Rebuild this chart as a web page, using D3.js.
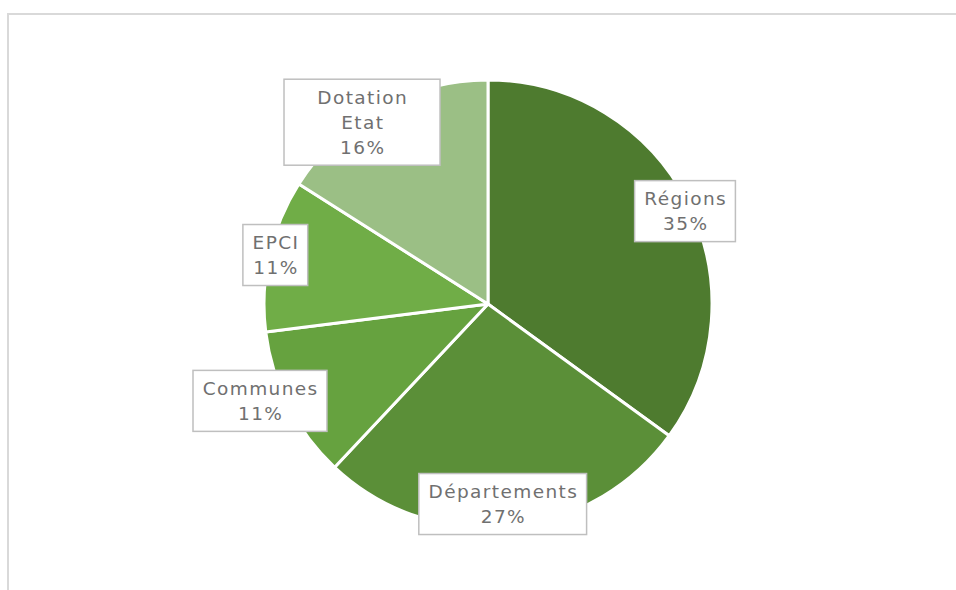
<!DOCTYPE html>
<html>
<head>
<meta charset="utf-8">
<script src="https://cdn.jsdelivr.net/npm/d3@7"></script>
<style>
  body { margin: 0; background: #fff; }
  svg { display: block; }
</style>
</head>
<body>
<div id="chart"></div>
<script>
// data
var categories = ['Régions', 'Départements', 'Communes', 'EPCI', 'Dotation Etat'];
var values = [35, 27, 11, 11, 16];
var labelLines = [['Régions'], ['Départements'], ['Communes'], ['EPCI'], ['Dotation', 'Etat']];
var colors = ['#4e7b2f', '#5b8f38', '#66a23f', '#70ad47', '#9bbf85'];

// label nudges from the centroid (excel's "best fit" placement)
var nudges = [[1, 7], [-6, -19], [-32, -3], [2, -1], [-20, 11]];

var w = 956, h = 590;
var cx = 488, cy = 304, r = 224;

var svg = d3.select('#chart').append('svg')
  .attr('width', w).attr('height', h);

// chart area frame
svg.append('rect')
  .attr('x', 8).attr('y', 14)
  .attr('width', w + 20).attr('height', h + 20)
  .attr('fill', 'none')
  .attr('stroke', '#d9d9d9')
  .attr('stroke-width', 2);

var pie = d3.pie().sort(null).value(d => d);
var arcs = pie(values);

var arc = d3.arc().innerRadius(0).outerRadius(r);
var labelArc = d3.arc().innerRadius(220).outerRadius(220);

var g = svg.append('g').attr('transform', 'translate(' + cx + ',' + cy + ')');

g.selectAll('path.slice')
  .data(arcs)
  .enter().append('path')
  .attr('class', 'slice')
  .attr('d', arc)
  .attr('fill', (d, i) => colors[i])
  .attr('stroke', '#fff')
  .attr('stroke-width', 3)
  .attr('stroke-linejoin', 'round');

var lineH = 25;
var ls = 1.4;
var labels = g.selectAll('g.label')
  .data(arcs)
  .enter().append('g')
  .attr('class', 'label')
  .attr('transform', (d, i) => {
    var c = labelArc.centroid(d);
    return 'translate(' + (c[0] + nudges[i][0]) + ',' + (c[1] + nudges[i][1]) + ')';
  });

labels.each(function(d, i) {
  var lab = d3.select(this);
  var lines = labelLines[i].concat([Math.round(d.data) + '%']);
  var box = lab.append('rect');
  var txt = lab.append('text')
    .attr('text-anchor', 'middle')
    .attr('font-family', "'DejaVu Sans', sans-serif")
    .attr('font-size', 18.5)
    .attr('letter-spacing', ls)
    .attr('fill', '#707070');
  var top = -(lines.length - 1) * lineH / 2;
  lines.forEach((t, k) => {
    txt.append('tspan')
      .attr('x', ls / 2)
      .attr('y', top + k * lineH)
      .attr('dy', '0.35em')
      .text(t);
  });
  var bb = txt.node().getBBox();
  var bw = Math.max(bb.width + 18, i == 4 ? 156 : 0);
  var bh = lines.length * lineH + 11;
  box.attr('x', -bw / 2).attr('y', -bh / 2)
    .attr('width', bw).attr('height', bh)
    .attr('fill', '#fff')
    .attr('stroke', '#bfbfbf')
    .attr('stroke-width', 1.5);
});
</script>
</body>
</html>
